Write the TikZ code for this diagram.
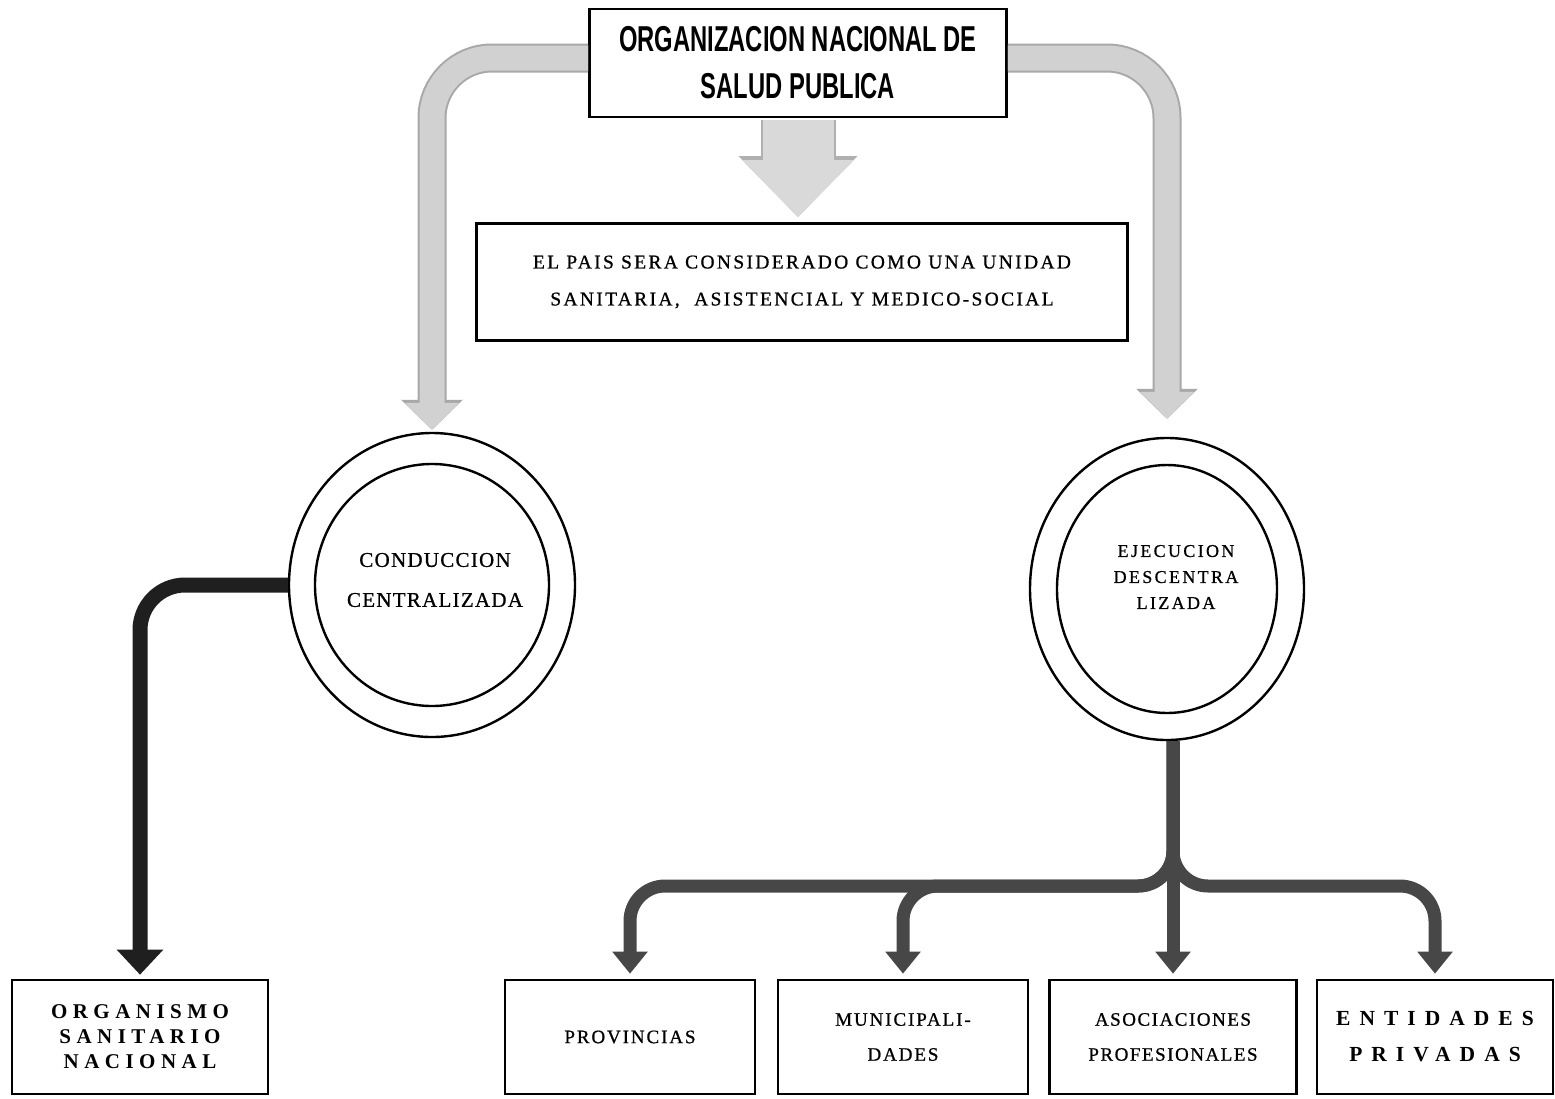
\documentclass[tikz,border=0pt]{standalone}
\usepackage{fontspec}
\usepackage{tikz}
\usetikzlibrary{shapes.geometric, arrows.meta}
\setmainfont{Liberation Serif}
\newfontfamily\condfont[FakeStretch=0.66]{Liberation Sans}
\newfontfamily\printfont[FakeBold=0.8]{Liberation Serif}

\begin{document}
\begin{tikzpicture}[
  x=1pt, y=-1pt,
  every node/.style={inner sep=0pt},
  box/.style={draw, line width=2.6pt, fill=white, align=center},
  lowbox/.style={box, minimum width=250pt, minimum height=114pt},
  ring/.style={draw, ellipse, line width=2.4pt},
  ringtext/.style={align=center},
  pipe/.style={line width=25pt, gray!36, rounded corners=60pt, shorten >=2pt, -{Triangle[length=27pt, width=53pt]},
    preaction={draw, line width=29pt, gray!68, -{Triangle[length=30pt, width=60pt]}}},
  bigarrow/.style={line width=71pt, gray!30, shorten >=2pt, -{Triangle[length=57pt, width=108pt]},
    preaction={draw, line width=75pt, gray!62, -{Triangle[length=61pt, width=115pt]}}},
  blackpipe/.style={line width=15pt, black!88, rounded corners=45pt, -{Triangle[length=25pt, width=45pt]}},
  branch/.style={line width=13pt, black!72, rounded corners=35pt, shorten >=5pt, -{Triangle[length=22pt, width=34pt]}}
]
\useasboundingbox (0,0) rectangle (1555,1098);

% Top: national organisation and its statement
\node[box, minimum width=417pt, minimum height=108pt, font=\condfont\bfseries\fontsize{36}{47}\selectfont] (top) at (798,63)
  {ORGANIZACION NACIONAL DE\\SALUD PUBLICA};
\node[box, minimum width=651pt, minimum height=117pt, font={\printfont\fontsize{19.5}{37}\selectfont\addfontfeatures{LetterSpace=12}}] (unidad) at (802,282)
  {EL PAIS SERA CONSIDERADO COMO UNA UNIDAD\\SANITARIA,\ \ ASISTENCIAL Y MEDICO-SOCIAL};

% The two rings
\node[ring, minimum width=286pt, minimum height=304pt] (cond) at (432,585) {};
\node[ring, minimum width=234pt, minimum height=242pt] (condin) at (cond.center) {};
\node[ringtext, font={\printfont\fontsize{21}{40}\selectfont\addfontfeatures{LetterSpace=6}}] (condtxt) at (435,580)
  {CONDUCCION\\CENTRALIZADA};

\node[ring, minimum width=274pt, minimum height=302pt] (ejec) at (1167,589) {};
\node[ring, minimum width=220pt, minimum height=248pt] (ejecin) at (ejec.center) {};
\node[ringtext, font={\printfont\fontsize{18}{26}\selectfont\addfontfeatures{LetterSpace=13}}] (ejectxt) at (1176,577)
  {EJECUCION\\DESCENTRA\\LIZADA};

% Bottom row
\node[box, minimum width=256pt, minimum height=114pt, font={\bfseries\fontsize{21}{25}\selectfont\addfontfeatures{LetterSpace=26}}] (org) at (140,1037)
  {ORGANISMO\\SANITARIO\\NACIONAL};
\node[lowbox, font={\printfont\fontsize{19}{35}\selectfont\addfontfeatures{LetterSpace=10}}] (prov) at (630,1037) {PROVINCIAS};
\node[lowbox, font={\printfont\fontsize{19}{35}\selectfont\addfontfeatures{LetterSpace=10}}] (muni) at (903,1037) {MUNICIPALI-\\DADES};
\node[lowbox, minimum width=247pt, font={\printfont\fontsize{19}{35}\selectfont\addfontfeatures{LetterSpace=8}}] (asoc) at (1173,1037) {ASOCIACIONES\\PROFESIONALES};
\node[lowbox, minimum width=236pt, font={\bfseries\fontsize{21.5}{36}\selectfont\addfontfeatures{LetterSpace=42}}] (ent) at (1435,1037) {ENTIDADES\\PRIVADAS};

% Grey arrows from the top
\draw[pipe] ([yshift=5pt]top.west) -| (cond.north);
\draw[pipe, shorten >=18pt] ([yshift=5pt]top.east) -| (ejec.north);
\draw[bigarrow, shorten <=1.5pt, shorten >=5pt] (top.south) -- (top.south |- unidad.north);

% Centralised side
\draw[blackpipe, shorten >=4pt] (cond.west) -| (org.north);

% Decentralised side
\coordinate (split) at (1173,886);
\draw[branch] (asoc.north |- ejec.south) |- (split -| prov.north) -- (prov.north);
\draw[branch] (asoc.north |- ejec.south) |- (split -| muni.north) -- (muni.north);
\draw[branch] (asoc.north |- ejec.south) |- (split -| ent.north) -- (ent.north);
\draw[branch] (asoc.north |- ejec.south) -- (asoc.north);

\end{tikzpicture}
\end{document}
